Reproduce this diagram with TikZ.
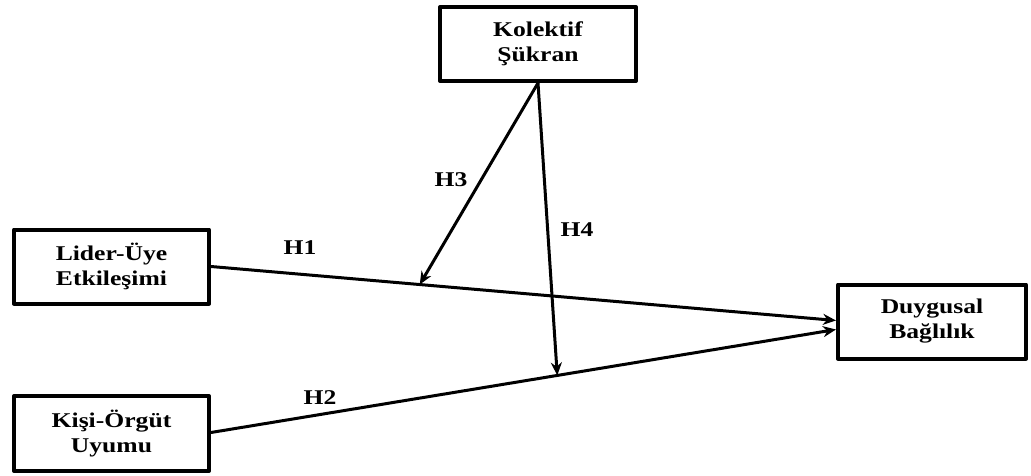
\documentclass[tikz,border=0pt]{standalone}
\usepackage{fontspec}
\setmainfont{Liberation Serif}[FakeStretch=1.22]
\usetikzlibrary{arrows.meta}
\begin{document}
\begin{tikzpicture}[>={Stealth[length=13pt,width=11pt]}, x=1pt, y=-1pt, line join=round,
	font=\bfseries\fontsize{21}{25}\selectfont,
	kutu/.style={draw, line width=4pt, align=center, inner sep=0pt, minimum height=74pt},
	ok/.style={->, line width=3pt}]
	\useasboundingbox (0,0) rectangle (1031,476);
	\node[kutu, minimum width=196pt] (kol) at (538,44) {Kolektif\\Şükran};
	\node[kutu, minimum width=195pt] (lider) at (111.5,266.5) {Lider-Üye\\Etkileşimi};
	\node[kutu, minimum width=195pt, minimum height=75pt] (kisi) at (111.5,433.5) {Kişi-Örgüt\\Uyumu};
	\node[kutu, minimum width=188pt] (duy) at (932,321.5) {Duygusal\\Bağlılık};
	\draw[ok] (lider.east) -- ([yshift=1pt]duy.west) coordinate[pos=.334] (m1);
	\draw[ok] ([yshift=1pt]kisi.east) -- ([yshift=-8pt]duy.west) coordinate[pos=.554] (m2);
	\draw[ok] (kol.south) -- (m1);
	\draw[ok] (kol.south) -- (m2);
	\node (h1) at (300,248) {H1};
	\node (h2) at (320,398) {H2};
	\node (h3) at (451,180) {H3};
	\node (h4) at (577,230) {H4};
\end{tikzpicture}
\end{document}
